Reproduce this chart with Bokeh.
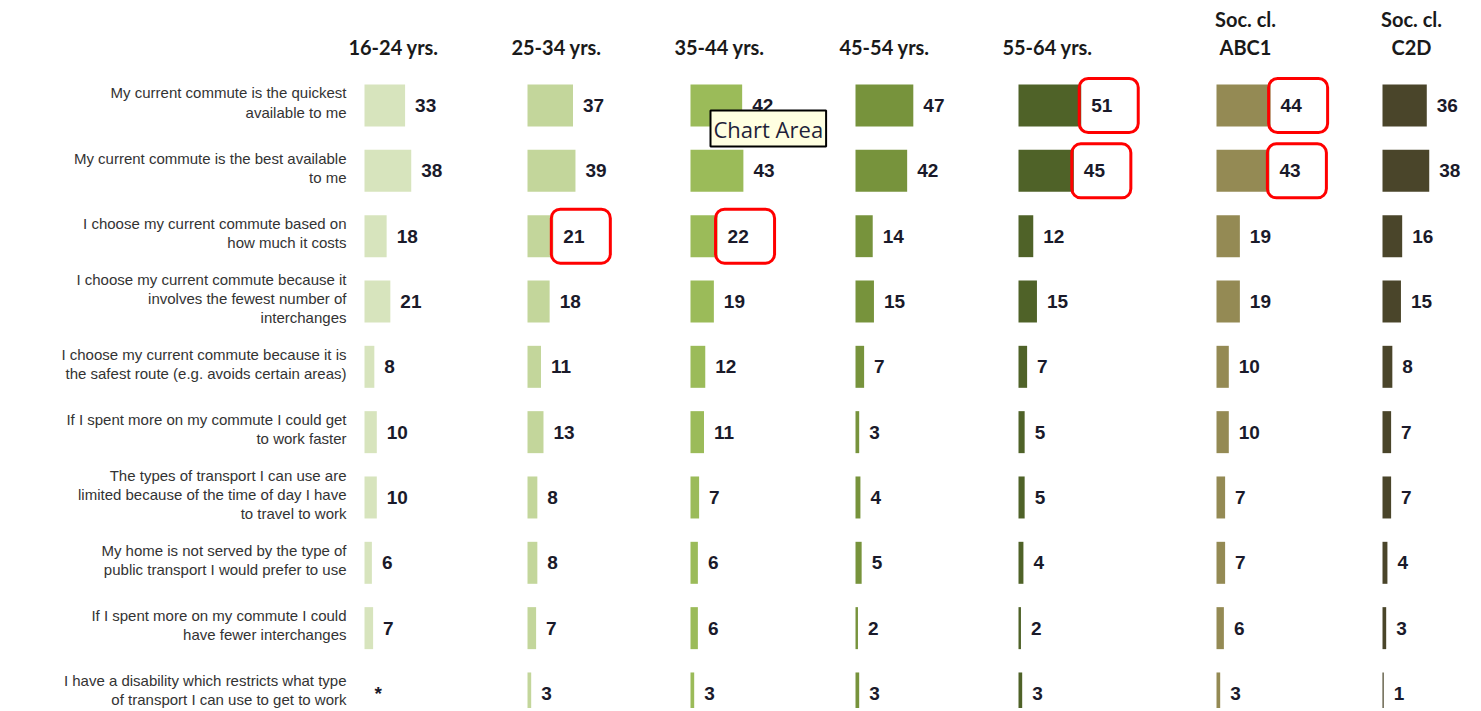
from bokeh.plotting import figure
from bokeh.models import ColumnDataSource, Range1d, BoxAnnotation, Label
from bokeh.core.properties import value
from bokeh.embed import file_html
from bokeh.resources import INLINE

# ---------------- data ----------------
statements = [
    "My current commute is the quickest\navailable to me",
    "My current commute is the best available\nto me",
    "I choose my current commute based on\nhow much it costs",
    "I choose my current commute because it\ninvolves the fewest number of\ninterchanges",
    "I choose my current commute because it is\nthe safest route (e.g. avoids certain areas)",
    "If I spent more on my commute I could get\nto work faster",
    "The types of transport I can use are\nlimited because of the time of day I have\nto travel to work",
    "My home is not served by the type of\npublic transport I would prefer to use",
    "If I spent more on my commute I could\nhave fewer interchanges",
    "I have a disability which restricts what type\nof transport I can use to get to work",
]
groups = ["16-24 yrs.", "25-34 yrs.", "35-44 yrs.", "45-54 yrs.", "55-64 yrs.", "Soc. cl.\nABC1", "Soc. cl.\nC2D"]
age_16_24 = [33, 38, 18, 21, 8, 10, 10, 6, 7, None]
age_25_34 = [37, 39, 21, 18, 11, 13, 8, 8, 7, 3]
age_35_44 = [42, 43, 22, 19, 12, 11, 7, 6, 6, 3]
age_45_54 = [47, 42, 14, 15, 7, 3, 4, 5, 2, 3]
age_55_64 = [51, 45, 12, 15, 7, 5, 5, 4, 2, 3]
soc_abc1 = [44, 43, 19, 19, 10, 10, 7, 7, 6, 3]
soc_c2d = [36, 38, 16, 15, 8, 7, 7, 4, 3, 1]
series = [age_16_24, age_25_34, age_35_44, age_45_54, age_55_64, soc_abc1, soc_c2d]
# highlighted cells: (group index, statement index)
highlights = [(4, 0), (5, 0), (4, 1), (5, 1), (1, 2), (2, 2)]

# ---------------- layout ----------------
W, H = 1478, 708
PX = 1.23            # pixels per percentage point
ROW0, ROWSTEP = 105.0, 65.33
colors = ["#d7e4bd", "#c3d69b", "#9bbb59", "#77933c", "#4f6228", "#948a54", "#4a452a"]
panel_px = [364, 527, 690, 855, 1018, 1216, 1382]


def sx(px):
    return px / PX


def sy(py):
    return (py - ROW0) / ROWSTEP


p = figure(width=W, height=H, output_backend="svg", toolbar_location=None,
           x_range=Range1d(0, W / PX), y_range=Range1d(sy(H), sy(0)),
           min_border=0, x_axis_location=None, y_axis_location=None)
p.grid.visible = False
p.outline_line_color = None
p.background_fill_color = "white"

rows = list(range(len(statements)))

# statement labels
p.text(x=[sx(346)] * len(rows), y=[r - 3 / ROWSTEP for r in rows], text=statements,
       text_font=value("Liberation Sans"), text_font_size="15px", text_align="right",
       text_baseline="middle", text_line_height=1.12, text_color="#333333")

for g, vals in enumerate(series):
    off = sx(panel_px[g])
    ys, lefts, rights, lx, ly, lt = [], [], [], [], [], []
    for r, v in enumerate(vals):
        vv = v if v is not None else 0
        if v is not None:
            ys.append(r)
            lefts.append(off)
            rights.append(off + v)
        lx.append(off + vv + 10 / PX)
        ly.append(r)
        lt.append(str(v) if v is not None else "*")
    p.hbar(y=ys, left=lefts, right=rights, height=42 / ROWSTEP, fill_color=colors[g],
           line_color=None)
    p.text(x=lx, y=ly, text=lt, text_font=value("Liberation Sans"), text_font_size="19px",
           text_font_style="bold", text_baseline="middle", text_align="left",
           text_color="#1a1a2a")
    # header
    lines = groups[g].split("\n")
    hy = [sy(46)] if len(lines) == 1 else [sy(18), sy(46)]
    p.text(x=[off + 29 / PX] * len(lines), y=hy, text=lines,
           text_font=value("Lato"), text_font_size="20px", text_font_style="bold",
           text_align="center", text_baseline="middle", text_color="#1a1a1a")

for g, r in highlights:
    end = sx(panel_px[g]) + series[g][r]
    p.add_layout(BoxAnnotation(left=end - 2 / PX, right=end + 57 / PX, top=r - 27 / ROWSTEP,
                               bottom=r + 27 / ROWSTEP, fill_alpha=0, line_color="#ff0000",
                               line_alpha=1, line_width=3, border_radius=9))

# tooltip seen in the screenshot
p.add_layout(Label(x=sx(710), y=sy(128), text="Chart Area", text_font="Open Sans",
                   text_font_size="22px", text_color="#1f1f3a", text_baseline="middle",
                   background_fill_color="#ffffe1", border_line_color="black",
                   border_line_width=2, padding=3))

open("out.html", "w").write(file_html(p, INLINE))
